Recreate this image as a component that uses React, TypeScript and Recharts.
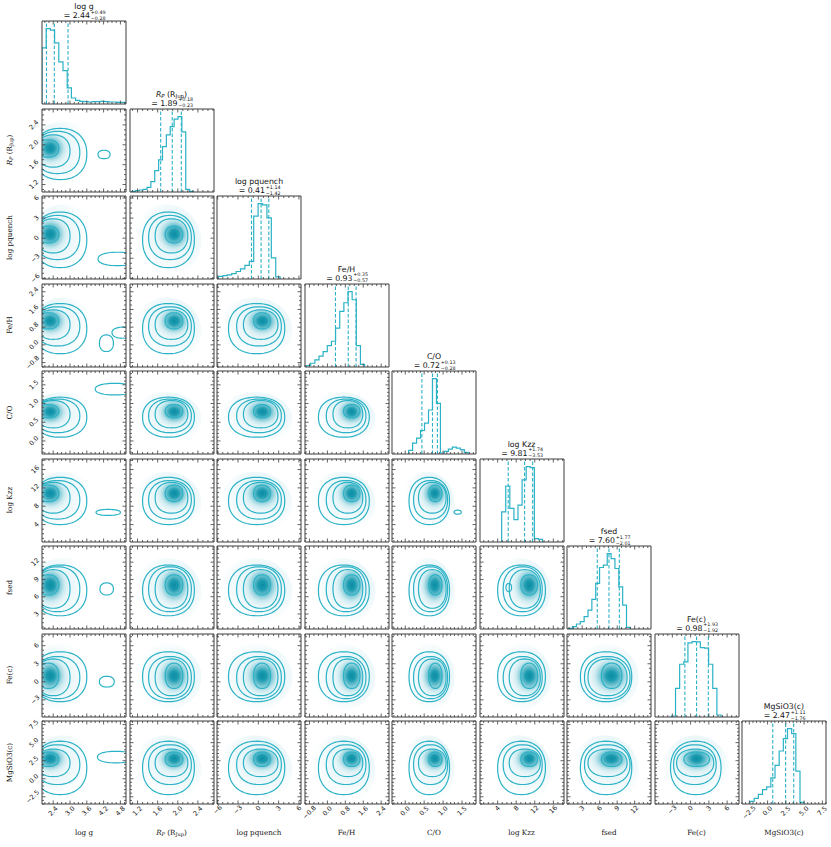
import React from 'react';
import { ComposedChart, LineChart, Line, Scatter, XAxis, YAxis, ReferenceArea, ReferenceLine } from 'recharts';

// ---------------- data ----------------
const axisLabels = ['log g', 'Rp', 'log pquench', 'Fe/H', 'C/O', 'log Kzz', 'fsed', 'Fe(c)', 'MgSiO3(c)'];
const medians = [2.44, 1.89, 0.41, 0.93, 0.72, 9.81, 7.6, 0.98, 2.47];
const errPlus = [0.49, 0.18, 1.14, 0.35, 0.13, 1.74, 1.77, 1.93, 1.11];
const errMinus = [0.28, 0.23, 1.42, 0.57, 0.28, 3.53, 2.01, 1.92, 1.76];

const domainLo = [2.0, 1.05, -6.1, -1.0, -0.35, 0.2, 0.4, -5.85, -3.5];
const domainHi = [5.0, 2.72, 6.3, 2.75, 1.87, 18.3, 14.8, 7.95, 8.0];
const majorTicks = [
  [2.4, 3.0, 3.6, 4.2, 4.8],
  [1.2, 1.6, 2.0, 2.4],
  [-6, -3, 0, 3, 6],
  [-0.8, 0.0, 0.8, 1.6, 2.4],
  [0.0, 0.5, 1.0, 1.5],
  [4, 8, 12, 16],
  [3, 6, 9, 12],
  [-3, 0, 3, 6],
  [-2.5, 0.0, 2.5, 5.0, 7.5],
];
const minorStep = [0.15, 0.1, 0.75, 0.2, 0.1, 1, 0.75, 0.75, 0.5];
const tickDecimals = [1, 1, 0, 1, 1, 0, 0, 0, 1];

// 2D posterior: mode and contour extents (inner -> outer) per parameter
const modeCenter = [2.3, 1.93, 0.6, 1.08, 0.78, 10.8, 8.0, 1.0, 2.8];
const contourLo = [
  [1.85, 1.75, -0.7, 0.72, 0.62, 9.0, 6.3, -1.1, 1.7],
  [1.8, 1.55, -2.2, 0.25, 0.35, 6.5, 4.0, -2.3, 0.3],
  [1.75, 1.42, -3.2, -0.05, 0.22, 5.2, 3.4, -2.8, -0.8],
  [1.7, 1.3, -4.4, -0.4, 0.1, 4.0, 2.7, -3.3, -2.2],
];
const contourHi = [
  [2.6, 2.1, 1.8, 1.45, 0.97, 12.6, 9.8, 3.1, 3.7],
  [3.0, 2.2, 2.9, 1.58, 1.08, 13.2, 10.7, 3.8, 4.1],
  [3.35, 2.27, 3.4, 1.72, 1.12, 13.6, 11.2, 4.2, 4.7],
  [3.6, 2.33, 3.9, 1.87, 1.17, 14.3, 11.5, 5.0, 5.2],
];
// secondary islands: [xParam, yParam, x1, x2, y1, y2]
const islands: number[][] = [
  [0, 1, 4.0, 4.43, 1.72, 1.89],
  [0, 2, 4.0, 5.4, -4.1, -2.1],
  [0, 3, 4.05, 4.55, -0.3, 0.45],
  [0, 3, 4.5, 5.3, 0.3, 0.8],
  [0, 4, 3.9, 5.3, 1.23, 1.54],
  [0, 5, 3.93, 4.8, 6.0, 7.3],
  [0, 6, 4.07, 4.55, 6.3, 8.4],
  [0, 7, 4.05, 4.58, -0.87, 0.92],
  [0, 8, 3.98, 5.3, 2.2, 3.8],
  [4, 5, 1.29, 1.48, 6.26, 7.14],
  [5, 6, 5.8, 7.0, 6.9, 8.3],
];

// 1D histograms
const loggEdges = [2.0, 2.15, 2.3, 2.45, 2.6, 2.75, 2.9, 3.05, 3.2, 3.35, 3.5, 3.65, 3.8, 3.95, 4.1, 4.25, 4.4, 4.55, 4.7, 4.85, 5.0];
const loggCounts = [168, 226, 221, 183, 126, 100, 48, 18, 11, 8, 7, 6, 7, 7, 8, 7, 6, 6, 5, 5];
const rpEdges = [1.08, 1.157, 1.234, 1.311, 1.388, 1.465, 1.542, 1.619, 1.696, 1.773, 1.85, 1.927, 2.004, 2.081, 2.158, 2.235, 2.312];
const rpCounts = [2, 4, 6, 8, 14, 31, 64, 96, 136, 171, 196, 218, 226, 180, 8, 2];
const pqEdges = [-5.88, -5.23, -4.58, -3.93, -3.28, -2.63, -1.98, -1.33, -0.68, -0.03, 0.62, 1.27, 1.92, 2.57, 3.22];
const pqCounts = [8, 10, 12, 16, 22, 30, 40, 52, 185, 222, 218, 180, 62, 6];
const fehEdges = [-0.93, -0.745, -0.56, -0.375, -0.19, -0.005, 0.18, 0.365, 0.55, 0.735, 0.92, 1.105, 1.29, 1.475, 1.66];
const fehCounts = [4, 10, 19, 29, 41, 57, 69, 104, 149, 172, 202, 180, 57, 7];
const coEdges = [0.09, 0.195, 0.3, 0.405, 0.51, 0.615, 0.72, 0.825, 0.93, 1.035, 1.14, 1.245, 1.35, 1.455, 1.56, 1.665];
const coCounts = [11, 33, 48, 71, 93, 133, 228, 153, 3, 8, 15, 21, 18, 13, 5];
const kzzEdges = [4.87, 5.75, 6.63, 7.51, 8.39, 9.27, 10.15, 11.03, 11.91, 12.79, 13.67];
const kzzCounts = [90, 167, 100, 67, 110, 185, 225, 222, 10, 8];
const fsedEdges = [0.7, 1.36, 2.02, 2.68, 3.34, 4.0, 4.66, 5.32, 5.98, 6.64, 7.3, 7.96, 8.62, 9.28, 9.94, 10.6, 11.26];
const fsedCounts = [2, 7, 15, 22, 37, 57, 89, 137, 185, 192, 227, 212, 182, 127, 72, 5];
const fecEdges = [-3.16, -2.48, -1.8, -1.12, -0.44, 0.24, 0.92, 1.6, 2.28, 2.96, 3.64, 4.32, 5.0];
const fecCounts = [3, 86, 158, 165, 222, 226, 225, 208, 206, 158, 86, 6];
const mgEdges = [-2.4, -1.83, -1.26, -0.69, -0.12, 0.45, 1.02, 1.59, 2.16, 2.73, 3.3, 3.87, 4.44, 5.01];
const mgCounts = [8, 17, 29, 43, 51, 78, 115, 158, 195, 225, 210, 98, 5];

const histEdges = [loggEdges, rpEdges, pqEdges, fehEdges, coEdges, kzzEdges, fsedEdges, fecEdges, mgEdges];
const histCounts = [loggCounts, rpCounts, pqCounts, fehCounts, coCounts, kzzCounts, fsedCounts, fecCounts, mgCounts];

// ---------------- style / layout ----------------
const LINE = '#2bb2c6';
const FRAME = '#3c3c3c';
const TXT = '#111';
const COL0 = 42;
const ROW0 = 21;
const STEP = 87.5;
const PW = 84;
const PH = 83;
const N = 9;

const fmt = (v: number, d: number) => {
  const s = Math.abs(v) < 1e-9 ? (0).toFixed(d) : v.toFixed(d);
  return s.replace('-', '\u2212');
};

const buildTicks = (k: number) => {
  const lo = domainLo[k];
  const hi = domainHi[k];
  const st = minorStep[k];
  const out: number[] = [];
  for (let n = Math.ceil(lo / st - 1e-9); n * st <= hi + 1e-9; n++) out.push(Math.round(n * st * 1e6) / 1e6);
  return out;
};

const tickRenderer = (side: string, k: number, showLabel: boolean) => (props: any) => {
  const { x, y, payload } = props;
  const v = payload.value;
  const major = majorTicks[k].some((m) => Math.abs(m - v) < 1e-6);
  const L = major ? 3.5 : 2;
  let line: any = null;
  let label: any = null;
  const s = fmt(v, tickDecimals[k]);
  if (side === 'bottom') {
    line = <line x1={x} y1={y} x2={x} y2={y - L} stroke={FRAME} strokeWidth={0.8} />;
    if (showLabel && major) {
      const cy = y + 3 + s.length * 1.35;
      label = (
        <text x={x} y={cy} transform={`rotate(-45 ${x} ${cy})`} textAnchor="middle" dominantBaseline="central" fontSize={6.5} fontFamily="DejaVu Sans" fill={TXT}>{s}</text>
      );
    }
  } else if (side === 'top') {
    line = <line x1={x} y1={y} x2={x} y2={y + L} stroke={FRAME} strokeWidth={0.8} />;
  } else if (side === 'left') {
    line = <line x1={x} y1={y} x2={x + L} y2={y} stroke={FRAME} strokeWidth={0.8} />;
    if (showLabel && major) {
      const cx = x - 4 - s.length * 1.35;
      label = (
        <text x={cx} y={y} transform={`rotate(-45 ${cx} ${y})`} textAnchor="middle" dominantBaseline="central" fontSize={6.5} fontFamily="DejaVu Sans" fill={TXT}>{s}</text>
      );
    }
  } else {
    line = <line x1={x} y1={y} x2={x - L} y2={y} stroke={FRAME} strokeWidth={0.8} />;
  }
  return (
    <g>
      {line}
      {label}
    </g>
  );
};

const contourShape = (props: any) => {
  const { x, y, width, height, clipPath } = props;
  if (!(width > 0) || !(height > 0)) return <g />;
  const cx = x + width / 2;
  const cy = y + height / 2;
  const rx = width / 2;
  const ry = height / 2;
  const e = 2 / 2.25;
  let d = '';
  for (let k = 0; k < 60; k++) {
    const t = (k / 60) * Math.PI * 2;
    const c = Math.cos(t);
    const s = Math.sin(t);
    const px = cx + rx * Math.sign(c) * Math.pow(Math.abs(c), e);
    const py = cy + ry * Math.sign(s) * Math.pow(Math.abs(s), e);
    d += (k === 0 ? 'M' : 'L') + px.toFixed(2) + ',' + py.toFixed(2);
  }
  return (
    <g clipPath={clipPath}>
      <path d={d + 'Z'} fill="none" stroke={LINE} strokeWidth={1.2} />
    </g>
  );
};

const blobShape = (id: string, fx: number, fy: number, stops: [number, string, number][]) => (props: any) => {
  const { x, y, width, height, clipPath } = props;
  if (!(width > 0) || !(height > 0)) return <g />;
  return (
    <g clipPath={clipPath}>
      <defs>
        <radialGradient id={id} cx={fx} cy={fy} r={0.62}>
          {stops.map((s, n) => (
            <stop key={n} offset={s[0]} stopColor={s[1]} stopOpacity={s[2]} />
          ))}
        </radialGradient>
      </defs>
      <ellipse cx={x + width / 2} cy={y + height / 2} rx={width / 2} ry={height / 2} fill={`url(#${id})`} />
    </g>
  );
};

const DARK: [number, string, number][] = [
  [0, '#0d8ca3', 1],
  [0.2, '#1b9bb0', 1],
  [0.42, '#62bdcc', 0.9],
  [0.68, '#bfe5ec', 0.7],
  [1, '#e8f6f9', 0],
];
const HAZE: [number, string, number][] = [
  [0, '#d3edf2', 0.8],
  [0.6, '#eaf6f9', 0.7],
  [1, '#ffffff', 0],
];

const axisCommon = {
  type: 'number' as const,
  allowDataOverflow: true,
  interval: 0 as const,
  tickSize: 0,
  tickMargin: 0,
  tickLine: false,
  axisLine: { stroke: FRAME, strokeWidth: 1 },
};

function Panel2D({ i, j }: { i: number; j: number }) {
  const labelX = j === N - 1;
  const labelY = i === 0;
  const ml = labelY ? 26 : labelX ? 10 : 2;
  const mr = labelX ? 10 : 2;
  const mb = labelX ? 26 : labelY ? 10 : 2;
  const mt = labelY ? 10 : 2;
  const left = Math.round(COL0 + STEP * i) - ml - 1;
  const top = Math.round(ROW0 + STEP * j) - mt - 1;
  const xt = buildTicks(i);
  const yt = buildTicks(j);
  const xd = [domainLo[i], domainHi[i]];
  const yd = [domainLo[j], domainHi[j]];
  const cxv = modeCenter[i];
  const cyv = modeCenter[j];
  const bx1 = contourLo[1][i];
  const bx2 = contourHi[1][i];
  const by1 = contourLo[1][j];
  const by2 = contourHi[1][j];
  const hx1 = contourLo[3][i] - 0.35 * (cxv - contourLo[3][i]);
  const hx2 = contourHi[3][i] + 0.35 * (contourHi[3][i] - cxv);
  const hy1 = contourLo[3][j] - 0.35 * (cyv - contourLo[3][j]);
  const hy2 = contourHi[3][j] + 0.35 * (contourHi[3][j] - cyv);
  const myIslands = islands.filter((r) => r[0] === i && r[1] === j);
  return (
    <div style={{ position: 'absolute', left, top }}>
      <ComposedChart width={PW + ml + mr + 2} height={PH + mt + mb + 2} margin={{ top: mt, right: mr, bottom: mb, left: ml }}>
        <XAxis {...axisCommon} dataKey="x" domain={xd} ticks={xt} height={1} tick={tickRenderer('bottom', i, labelX)} />
        <XAxis {...axisCommon} xAxisId="t" orientation="top" dataKey="x" domain={xd} ticks={xt} height={1} tick={tickRenderer('top', i, false)} />
        <YAxis {...axisCommon} dataKey="y" domain={yd} ticks={yt} width={1} tick={tickRenderer('left', j, labelY)} />
        <YAxis {...axisCommon} yAxisId="r" orientation="right" dataKey="y" domain={yd} ticks={yt} width={1} tick={tickRenderer('right', j, false)} />
        <ReferenceArea x1={hx1} x2={hx2} y1={hy1} y2={hy2} ifOverflow="hidden" shape={blobShape(`h${i}_${j}`, (cxv - hx1) / (hx2 - hx1), (hy2 - cyv) / (hy2 - hy1), HAZE)} />
        <ReferenceArea x1={bx1} x2={bx2} y1={by1} y2={by2} ifOverflow="hidden" shape={blobShape(`b${i}_${j}`, (cxv - bx1) / (bx2 - bx1), (by2 - cyv) / (by2 - by1), DARK)} />
        {[0, 1, 2, 3].map((l) => (
          <ReferenceArea key={l} x1={contourLo[l][i]} x2={contourHi[l][i]} y1={contourLo[l][j]} y2={contourHi[l][j]} ifOverflow="hidden" shape={contourShape} />
        ))}
        {myIslands.map((r, n) => (
          <ReferenceArea key={'is' + n} x1={r[2]} x2={r[3]} y1={r[4]} y2={r[5]} ifOverflow="hidden" shape={contourShape} />
        ))}
        <Scatter data={[{ x: cxv, y: cyv }]} dataKey="y" shape={() => <g />} isAnimationActive={false} />
        <Scatter data={[{ x: cxv, y: cyv }]} dataKey="y" xAxisId="t" yAxisId="r" shape={() => <g />} isAnimationActive={false} />
      </ComposedChart>
    </div>
  );
}

function PanelHist({ k }: { k: number }) {
  const last = k === N - 1;
  const ml = last ? 10 : 2;
  const mr = last ? 10 : 2;
  const mb = last ? 26 : 2;
  const mt = 2;
  const left = Math.round(COL0 + STEP * k) - ml - 1;
  const top = Math.round(ROW0 + STEP * k) - mt - 1;
  const edges = histEdges[k];
  const counts = histCounts[k];
  const data: { x: number; c: number }[] = [{ x: edges[0], c: 0 }];
  counts.forEach((c, n) => data.push({ x: edges[n], c }));
  data.push({ x: edges[edges.length - 1], c: 0 });
  const ymax = Math.max(...counts) * 1.1;
  const xt = buildTicks(k);
  const xd = [domainLo[k], domainHi[k]];
  const q = [medians[k] - errMinus[k], medians[k], medians[k] + errPlus[k]];
  return (
    <div style={{ position: 'absolute', left, top }}>
      <LineChart width={PW + ml + mr + 2} height={PH + mt + mb + 2} margin={{ top: mt, right: mr, bottom: mb, left: ml }} data={data}>
        <XAxis {...axisCommon} dataKey="x" domain={xd} ticks={xt} height={1} tick={tickRenderer('bottom', k, last)} />
        <XAxis {...axisCommon} xAxisId="t" orientation="top" dataKey="x" domain={xd} ticks={xt} height={1} tick={tickRenderer('top', k, false)} />
        <YAxis type="number" domain={[0, ymax]} allowDataOverflow width={1} tick={false} tickLine={false} axisLine={{ stroke: FRAME, strokeWidth: 1 }} />
        <YAxis yAxisId="r" orientation="right" type="number" domain={[0, ymax]} allowDataOverflow width={1} tick={false} tickLine={false} axisLine={{ stroke: FRAME, strokeWidth: 1 }} />
        <Line type="stepAfter" dataKey="c" stroke={LINE} strokeWidth={1.2} dot={false} isAnimationActive={false} />
        {q.map((v, n) => (
          <ReferenceLine key={n} x={v} stroke={LINE} strokeWidth={1.1} strokeDasharray="3.5 2" />
        ))}
      </LineChart>
    </div>
  );
}

const labelContent = (k: number) => {
  if (k === 1) {
    return [
      <tspan key="a" fontStyle="italic">R</tspan>,
      <tspan key="b" fontStyle="italic" fontSize="70%" dy={1.5}>P</tspan>,
      <tspan key="c" dy={-1.5}> (R</tspan>,
      <tspan key="d" fontSize="70%" dy={1.5}>Jup</tspan>,
      <tspan key="e" dy={-1.5}>)</tspan>,
    ];
  }
  return axisLabels[k];
};

function Overlay() {
  const items: any[] = [];
  for (let k = 0; k < N; k++) {
    const px = COL0 + STEP * k + PW / 2;
    const top = ROW0 + STEP * k;
    items.push(
      <text key={'tn' + k} x={px} y={top - 14.5} textAnchor="middle" dominantBaseline="central" fontSize={7.8} fontFamily="DejaVu Sans" fill={TXT}>
        {labelContent(k)}
      </text>
    );
    items.push(
      <text key={'tv' + k} x={px + 6} y={top - 5.5} textAnchor="end" dominantBaseline="central" fontSize={7.8} fontFamily="DejaVu Sans" fill={TXT}>
        {'= ' + medians[k].toFixed(2)}
      </text>
    );
    items.push(
      <text key={'tp' + k} x={px + 6.8} y={top - 8.6} textAnchor="start" dominantBaseline="central" fontSize={4.8} fontFamily="DejaVu Sans" fill={TXT}>
        {'+' + errPlus[k].toFixed(2)}
      </text>
    );
    items.push(
      <text key={'tm' + k} x={px + 6.8} y={top - 3.0} textAnchor="start" dominantBaseline="central" fontSize={4.8} fontFamily="DejaVu Sans" fill={TXT}>
        {'\u2212' + errMinus[k].toFixed(2)}
      </text>
    );
    items.push(
      <text key={'xl' + k} x={px} y={832} textAnchor="middle" dominantBaseline="central" fontSize={7.2} fontFamily="DejaVu Serif" fill={TXT}>
        {labelContent(k)}
      </text>
    );
    if (k > 0) {
      const py = top + PH / 2;
      items.push(
        <text key={'yl' + k} x={9} y={py} transform={`rotate(-90 9 ${py})`} textAnchor="middle" dominantBaseline="central" fontSize={7.2} fontFamily="DejaVu Serif" fill={TXT}>
          {labelContent(k)}
        </text>
      );
    }
  }
  return (
    <svg width={831} height={847} style={{ position: 'absolute', left: 0, top: 0, pointerEvents: 'none' }}>
      {items}
    </svg>
  );
}

export default function App() {
  const panels: any[] = [];
  for (let j = 0; j < N; j++) {
    for (let i = 0; i <= j; i++) {
      if (i === j) panels.push(<PanelHist key={`h${i}`} k={i} />);
      else panels.push(<Panel2D key={`p${i}_${j}`} i={i} j={j} />);
    }
  }
  return (
    <div style={{ position: 'absolute', left: 0, top: 0, width: 831, height: 847, background: '#fff', overflow: 'hidden' }}>
      {panels}
      <Overlay />
    </div>
  );
}
